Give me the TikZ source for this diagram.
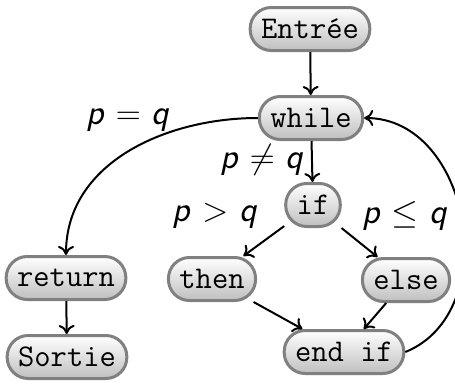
\documentclass[tikz,border=0pt]{standalone}
\usetikzlibrary{arrows.meta}
\newcommand{\sv}[1]{\textsf{\itshape #1}}
\begin{document}
\begin{tikzpicture}[x=0.5pt,y=-0.5pt,
  box/.style={draw=black!50, line width=1.5pt, rounded corners=10.5pt,
    top color=white, bottom color=black!25, font=\fontsize{15.8}{18}\selectfont\ttfamily,
    inner xsep=5.5pt, inner ysep=2pt, minimum height=21.5pt},
  conn/.style={line width=1pt, -{To[length=4.5pt,width=8pt]}},
  lbl/.style={font=\fontsize{18}{20}\selectfont}]
\useasboundingbox (0,0) rectangle (455,386);
\node[box] (entree) at (310,29) {Entrée};
\node[box] (while) at (311,118) {while};
\node[box] (if) at (313,205) {if};
\node[box] (then) at (212,279) {then};
\node[box] (else) at (406,280) {else};
\node[box] (endif) at (344,352) {end if};
\node[box] (return) at (66,278) {return};
\node[box] (sortie) at (67,357) {Sortie};
\draw[conn] (entree) -- (while);
\draw[conn] (while) -- (if);
\draw[conn] (while.west) to[out=180,in=90] (return.north);
\draw[conn] (if) -- (then);
\draw[conn] (if) -- (else);
\draw[conn] (then) -- (endif);
\draw[conn] (else) -- (endif);
\draw[conn] (endif.east) to[out=22,in=0,looseness=1.15] (while.east);
\draw[conn] (return) -- (sortie);
\node[lbl] (l1) at (128,120) {\sv{p} $=$ \sv{q}};
\node[lbl] (l2) at (262,160) {\sv{p} $\neq$ \sv{q}};
\node[lbl] (l3) at (215,216) {\sv{p} $>$ \sv{q}};
\node[lbl] (l4) at (405,216) {\sv{p} $\leq$ \sv{q}};
\end{tikzpicture}
\end{document}
